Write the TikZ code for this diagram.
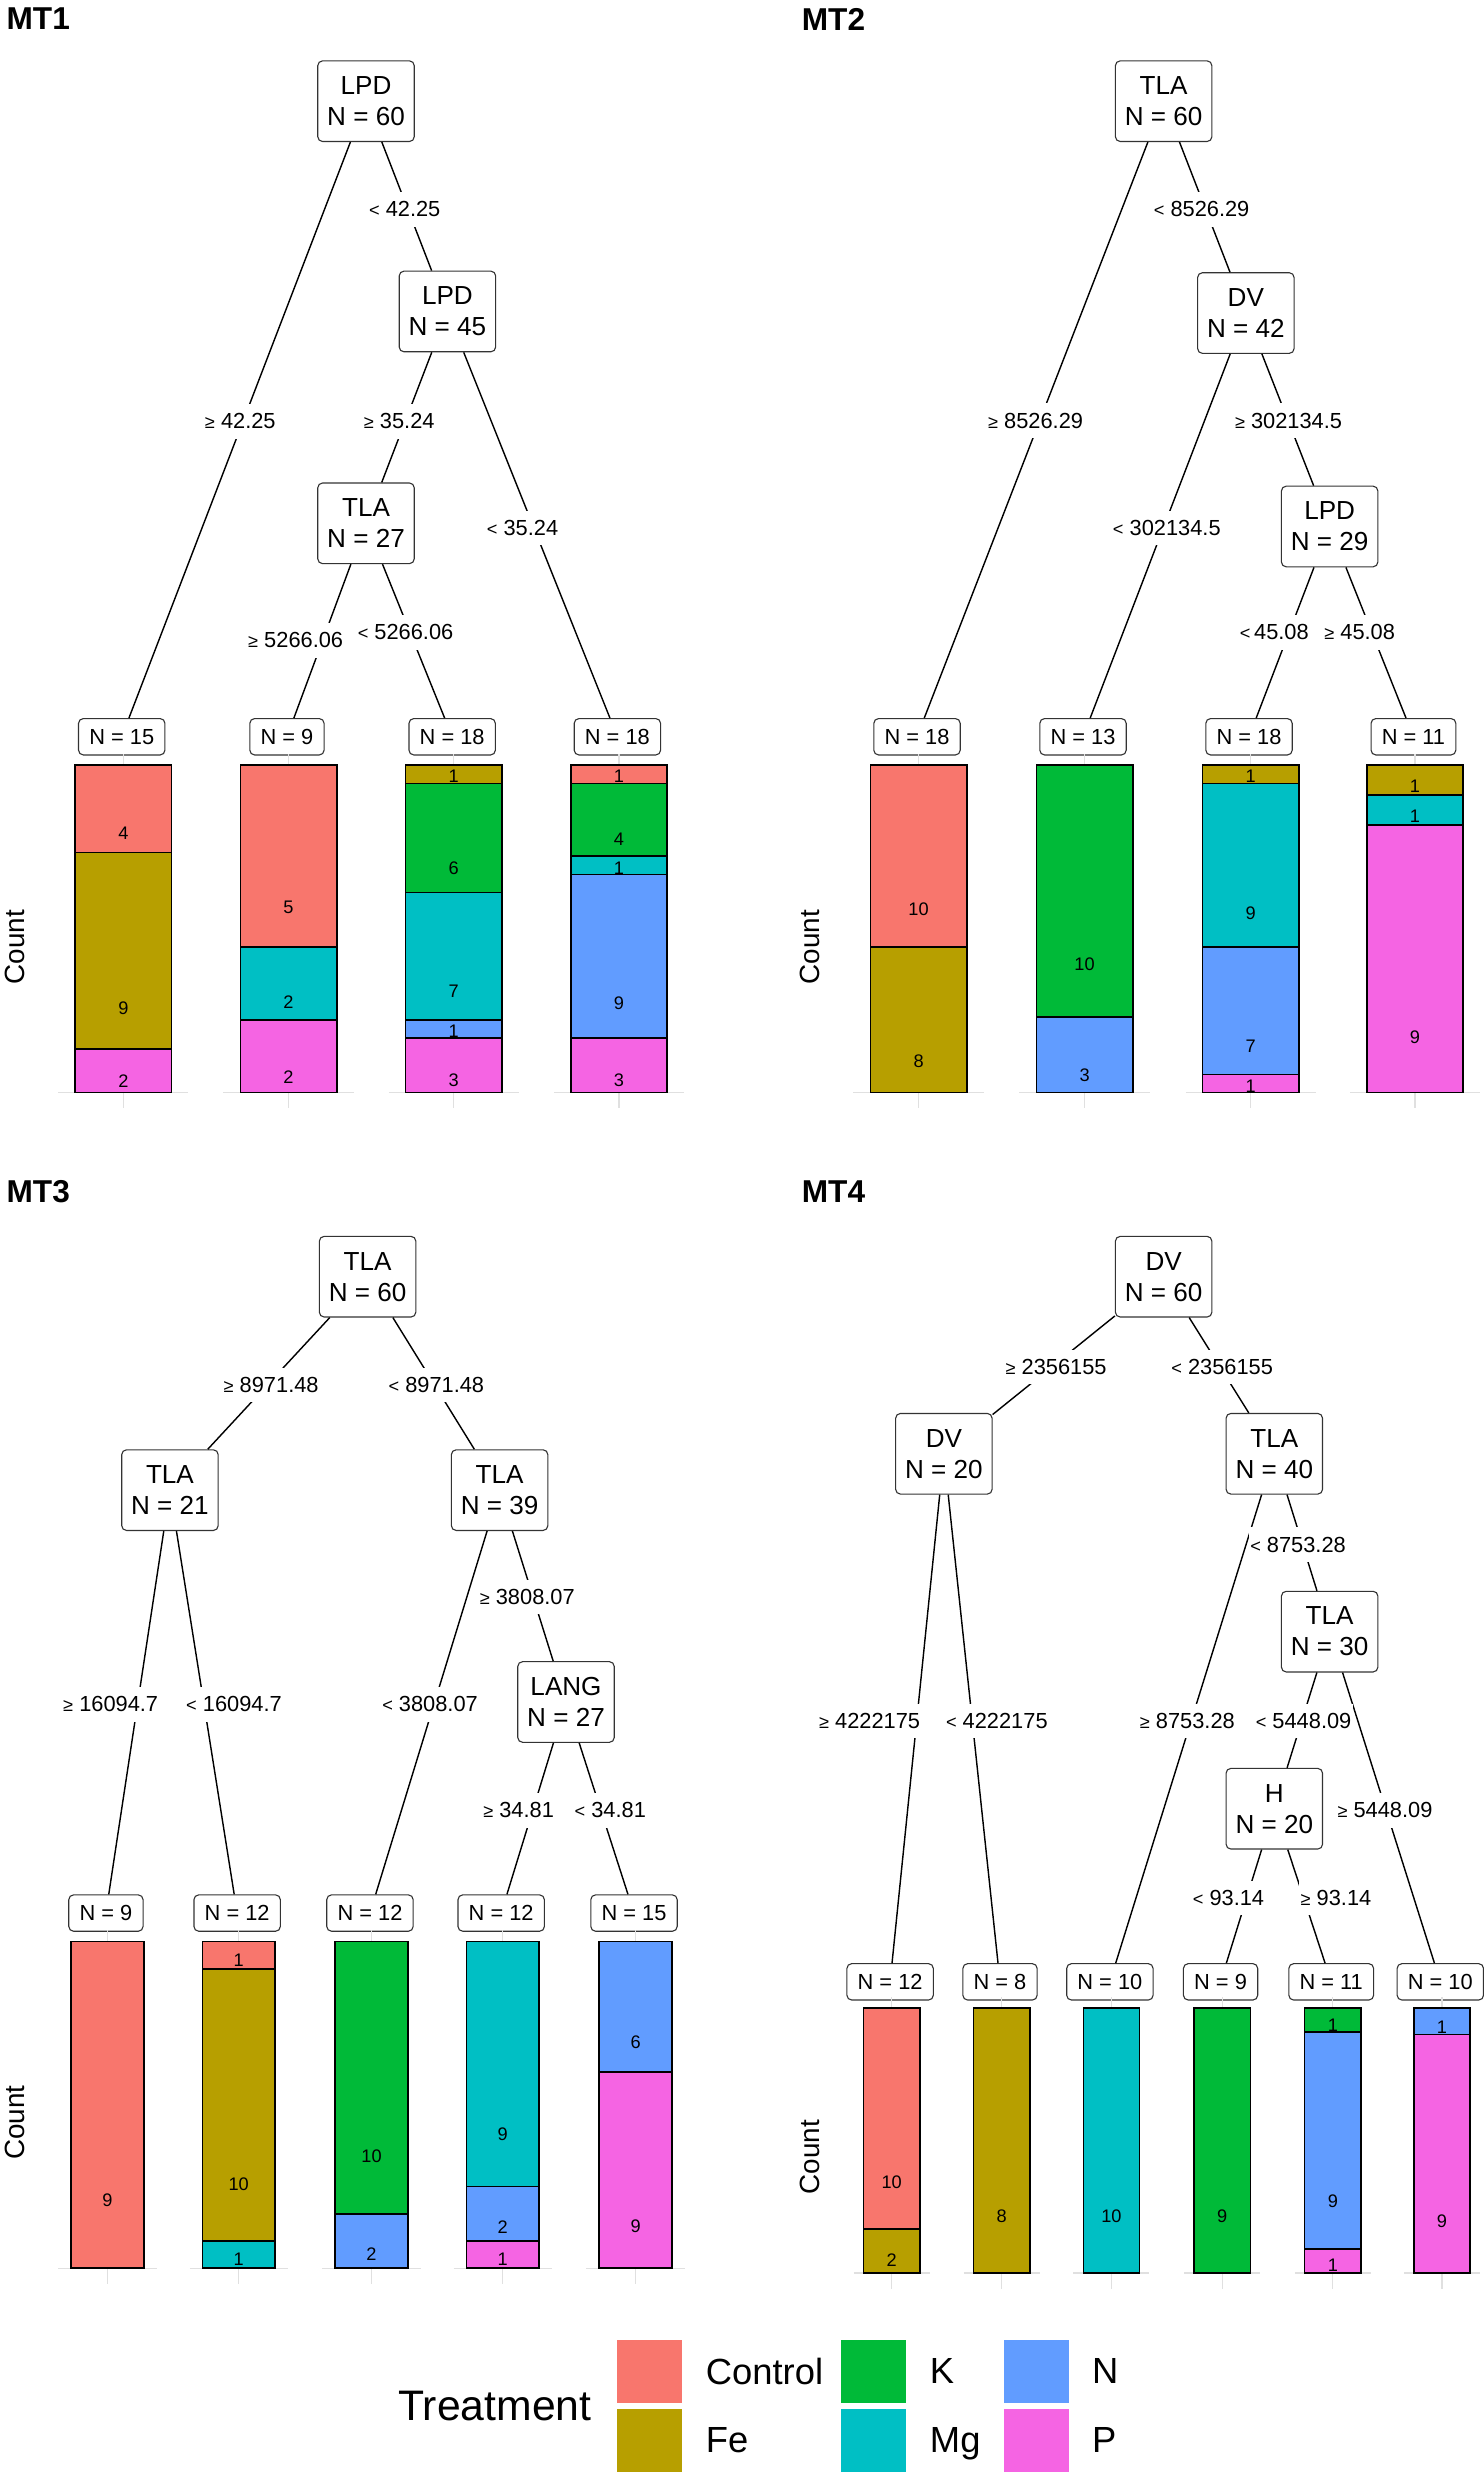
\documentclass[tikz,border=0pt]{standalone}
\usepackage{fontspec}
\setmainfont{Liberation Sans}
\usetikzlibrary{positioning}
\definecolor{trControl}{HTML}{F8766D}
\definecolor{trFe}{HTML}{B79F00}
\definecolor{trK}{HTML}{00BA38}
\definecolor{trMg}{HTML}{00BFC4}
\definecolor{trN}{HTML}{619CFF}
\definecolor{trP}{HTML}{F564E3}
\pgfdeclarelayer{front}
\pgfsetlayers{main,front}
\newcommand{\gsym}{{\fontsize{11.5}{11}\selectfont ≥}}
\newcommand{\lsym}{{\fontsize{11.5}{11}\selectfont <}}
\tikzset{
  splitnode/.style={draw=black!80, line width=0.7pt, rounded corners=3pt, fill=white, align=center, minimum width=61pt, minimum height=51pt, inner sep=0pt, font=\fontsize{16.5}{19.6}\selectfont},
  leafnode/.style={draw=black!80, line width=0.7pt, rounded corners=3pt, fill=white, minimum height=23pt, inner xsep=6.8pt, inner ysep=0pt, font=\fontsize{13.8}{14}\selectfont},
  edgelbl/.style={fill=white, inner xsep=1pt, inner ysep=6pt, font=\fontsize{13.8}{14}\selectfont},
  countlbl/.style={inner sep=0pt, font=\fontsize{11.5}{12}\selectfont},
  segbox/.style={draw=black, line width=1pt},
  treeedge/.style={draw=black, line width=0.9pt},
  axisln/.style={draw=black!12, line width=0.8pt},
  paneltitle/.style={anchor=west, inner sep=0pt, font=\fontsize{20}{20}\selectfont\bfseries},
  ylab/.style={rotate=90, inner sep=0pt, font=\fontsize{17.6}{18}\selectfont},
  keybox/.style={minimum width=41.5pt, minimum height=40.5pt, inner sep=0pt, draw=white, line width=0.5pt},
  keylbl/.style={inner sep=0pt, text depth=0pt, font=\fontsize{23}{23}\selectfont},
}
% one stacked piece of a bar: name, x, from, to, N, colour, count, label y
\newcommand{\barseg}[8]{%
  \filldraw[segbox, fill=#6] (#2-\barhw,\bartopy+\barlen*#3/#5) rectangle (#2+\barhw,\bartopy+\barlen*#4/#5);
  \begin{pgfonlayer}{front}\node[countlbl] (#1) at (#2,#8) {#7};\end{pgfonlayer}}
\newcommand{\baraxis}[1]{%
  \draw[axisln] (#1-1.35*\barhw,\bartopy+\barlen) -- (#1+1.35*\barhw,\bartopy+\barlen);
  \draw[axisln] (#1,\bartopy+\barlen) -- (#1,\bartopy+\barlen+10);
  \draw[axisln] (#1,\bartopy-7) -- (#1,\bartopy);}
\begin{document}
\begin{tikzpicture}[x=1pt,y=-1pt]
\useasboundingbox (0,0) rectangle (938,1568.6);

% MT1 tree
\node[paneltitle] (mt1title) at (4,12) {MT1};
\node[splitnode] (mt1a) at (231.5,64) {LPD\\N = 60};
\node[splitnode] (mt1b) at (283,197) {LPD\\N = 45};
\node[splitnode] (mt1c) at (231.5,331) {TLA\\N = 27};
\node[leafnode] (mt1l1) at (77,466) {N = 15};
\node[leafnode] (mt1l2) at (181.5,466) {N = 9};
\node[leafnode] (mt1l3) at (286,466) {N = 18};
\node[leafnode] (mt1l4) at (390.5,466) {N = 18};

\draw[treeedge] (mt1a) -- (mt1l1);
\draw[treeedge] (mt1a) -- (mt1b);
\draw[treeedge] (mt1b) -- (mt1c);
\draw[treeedge] (mt1b) -- (mt1l4);
\draw[treeedge] (mt1c) -- (mt1l2);
\draw[treeedge] (mt1c) -- (mt1l3);

\node[edgelbl] (mt1e1) at (256,132.5) {\lsym\ 42.25};
\node[edgelbl] (mt1e2) at (152,266.5) {\gsym\ 42.25};
\node[edgelbl] (mt1e3) at (252.5,266.5) {\gsym\ 35.24};
\node[edgelbl] (mt1e4) at (330.5,334) {\lsym\ 35.24};
\node[edgelbl] (mt1e5) at (187,405) {\gsym\ 5266.06};
\node[edgelbl] (mt1e6) at (256.5,400) {\lsym\ 5266.06};

% MT1 bars
\def\bartopy{484}\def\barlen{207}\def\barhw{30.5}
\baraxis{78}\baraxis{182.5}\baraxis{287}\baraxis{391.5}
\barseg{mt1b1s1}{78}{0}{4}{15}{trControl}{4}{527}
\barseg{mt1b1s2}{78}{4}{13}{15}{trFe}{9}{638}
\barseg{mt1b1s3}{78}{13}{15}{15}{trP}{2}{684}
\barseg{mt1b2s1}{182.5}{0}{5}{9}{trControl}{5}{574}
\barseg{mt1b2s2}{182.5}{5}{7}{9}{trMg}{2}{634}
\barseg{mt1b2s3}{182.5}{7}{9}{9}{trP}{2}{681}
\barseg{mt1b3s1}{287}{0}{1}{18}{trFe}{1}{491}
\barseg{mt1b3s2}{287}{1}{7}{18}{trK}{6}{549}
\barseg{mt1b3s3}{287}{7}{14}{18}{trMg}{7}{627}
\barseg{mt1b3s4}{287}{14}{15}{18}{trN}{1}{652}
\barseg{mt1b3s5}{287}{15}{18}{18}{trP}{3}{683}
\barseg{mt1b4s1}{391.5}{0}{1}{18}{trControl}{1}{491}
\barseg{mt1b4s2}{391.5}{1}{5}{18}{trK}{4}{531}
\barseg{mt1b4s3}{391.5}{5}{6}{18}{trMg}{1}{549}
\barseg{mt1b4s4}{391.5}{6}{15}{18}{trN}{9}{634.5}
\barseg{mt1b4s5}{391.5}{15}{18}{18}{trP}{3}{683}
\node[ylab] (mt1count) at (9.5,599) {Count};

% MT2 tree
\node[paneltitle] (mt2title) at (507,12) {MT2};
\node[splitnode] (mt2a) at (736,64) {TLA\\N = 60};
\node[splitnode] (mt2b) at (788,198) {DV\\N = 42};
\node[splitnode] (mt2c) at (841,333) {LPD\\N = 29};
\node[leafnode] (mt2l1) at (580,466) {N = 18};
\node[leafnode] (mt2l2) at (685,466) {N = 13};
\node[leafnode] (mt2l3) at (790,466) {N = 18};
\node[leafnode] (mt2l4) at (894,466) {N = 11};

\draw[treeedge] (mt2a) -- (mt2l1);
\draw[treeedge] (mt2a) -- (mt2b);
\draw[treeedge] (mt2b) -- (mt2l2);
\draw[treeedge] (mt2b) -- (mt2c);
\draw[treeedge] (mt2c) -- (mt2l3);
\draw[treeedge] (mt2c) -- (mt2l4);

\node[edgelbl] (mt2e1) at (760,132.5) {\lsym\ 8526.29};
\node[edgelbl] (mt2e2) at (655,266) {\gsym\ 8526.29};
\node[edgelbl] (mt2e3) at (815,266) {\gsym\ 302134.5};
\node[edgelbl] (mt2e4) at (738,334) {\lsym\ 302134.5};
\node[edgelbl] (mt2e5) at (806,400) {\lsym\,45.08};
\node[edgelbl] (mt2e6) at (860,400) {\gsym\ 45.08};

% MT2 bars
\baraxis{581}\baraxis{686}\baraxis{791}\baraxis{895}
\barseg{mt2b1s1}{581}{0}{10}{18}{trControl}{10}{575}
\barseg{mt2b1s2}{581}{10}{18}{18}{trFe}{8}{671.5}
\barseg{mt2b2s1}{686}{0}{10}{13}{trK}{10}{610}
\barseg{mt2b2s2}{686}{10}{13}{13}{trN}{3}{680}
\barseg{mt2b3s1}{791}{0}{1}{18}{trFe}{1}{491}
\barseg{mt2b3s2}{791}{1}{10}{18}{trMg}{9}{577.5}
\barseg{mt2b3s3}{791}{10}{17}{18}{trN}{7}{662}
\barseg{mt2b3s4}{791}{17}{18}{18}{trP}{1}{687}
\barseg{mt2b4s1}{895}{0}{1}{11}{trFe}{1}{497.5}
\barseg{mt2b4s2}{895}{1}{2}{11}{trMg}{1}{516.5}
\barseg{mt2b4s3}{895}{2}{11}{11}{trP}{9}{656}
\node[ylab] (mt2count) at (512.5,599) {Count};

% MT3 tree
\node[paneltitle] (mt3title) at (4,754) {MT3};
\node[splitnode] (mt3a) at (232.5,807.5) {TLA\\N = 60};
\node[splitnode] (mt3b) at (107.5,942.5) {TLA\\N = 21};
\node[splitnode] (mt3c) at (316,942.5) {TLA\\N = 39};
\node[splitnode] (mt3d) at (358,1076.5) {LANG\\N = 27};
\node[leafnode] (mt3l1) at (67,1210) {N = 9};
\node[leafnode] (mt3l2) at (150,1210) {N = 12};
\node[leafnode] (mt3l3) at (234,1210) {N = 12};
\node[leafnode] (mt3l4) at (317,1210) {N = 12};
\node[leafnode] (mt3l5) at (401,1210) {N = 15};

\draw[treeedge] (mt3a) -- (mt3b);
\draw[treeedge] (mt3a) -- (mt3c);
\draw[treeedge] (mt3b) -- (mt3l1);
\draw[treeedge] (mt3b) -- (mt3l2);
\draw[treeedge] (mt3c) -- (mt3l3);
\draw[treeedge] (mt3c) -- (mt3d);
\draw[treeedge] (mt3d) -- (mt3l4);
\draw[treeedge] (mt3d) -- (mt3l5);

\node[edgelbl] (mt3e1) at (171.5,876) {\gsym\ 8971.48};
\node[edgelbl] (mt3e2) at (276,876) {\lsym\ 8971.48};
\node[edgelbl] (mt3e3) at (70,1078) {\gsym\ 16094.7};
\node[edgelbl] (mt3e4) at (148,1078) {\lsym\ 16094.7};
\node[edgelbl] (mt3e5) at (333.5,1010) {\gsym\ 3808.07};
\node[edgelbl] (mt3e6) at (272,1078) {\lsym\ 3808.07};
\node[edgelbl] (mt3e7) at (328,1145) {\gsym\ 34.81};
\node[edgelbl] (mt3e8) at (386,1145) {\lsym\ 34.81};

% MT3 bars
\def\bartopy{1228}\def\barlen{206.6}\def\barhw{23}
\baraxis{68}\baraxis{151}\baraxis{235}\baraxis{318}\baraxis{402}
\barseg{mt3b1s1}{68}{0}{9}{9}{trControl}{9}{1391.5}
\barseg{mt3b2s1}{151}{0}{1}{12}{trControl}{1}{1240}
\barseg{mt3b2s2}{151}{1}{11}{12}{trFe}{10}{1381.5}
\barseg{mt3b2s3}{151}{11}{12}{12}{trMg}{1}{1429}
\barseg{mt3b3s1}{235}{0}{10}{12}{trK}{10}{1364}
\barseg{mt3b3s2}{235}{10}{12}{12}{trN}{2}{1426}
\barseg{mt3b4s1}{318}{0}{9}{12}{trMg}{9}{1350}
\barseg{mt3b4s2}{318}{9}{11}{12}{trN}{2}{1408.6}
\barseg{mt3b4s3}{318}{11}{12}{12}{trP}{1}{1429}
\barseg{mt3b5s1}{402}{0}{6}{15}{trN}{6}{1292}
\barseg{mt3b5s2}{402}{6}{15}{15}{trP}{9}{1408}
\node[ylab] (mt3count) at (9.5,1342.5) {Count};

% MT4 tree
\node[paneltitle] (mt4title) at (507,754) {MT4};
\node[splitnode] (mt4a) at (736,807.5) {DV\\N = 60};
\node[splitnode] (mt4b) at (597,919.5) {DV\\N = 20};
\node[splitnode] (mt4c) at (806,919.5) {TLA\\N = 40};
\node[splitnode] (mt4d) at (841,1032) {TLA\\N = 30};
\node[splitnode] (mt4e) at (806,1144) {H\\N = 20};
\node[leafnode] (mt4l1) at (563,1253.5) {N = 12};
\node[leafnode] (mt4l2) at (632.5,1253.5) {N = 8};
\node[leafnode] (mt4l3) at (702,1253.5) {N = 10};
\node[leafnode] (mt4l4) at (772,1253.5) {N = 9};
\node[leafnode] (mt4l5) at (842,1253.5) {N = 11};
\node[leafnode] (mt4l6) at (911,1253.5) {N = 10};

\draw[treeedge] (mt4a) -- (mt4b);
\draw[treeedge] (mt4a) -- (mt4c);
\draw[treeedge] (mt4b) -- (mt4l1);
\draw[treeedge] (mt4b) -- (mt4l2);
\draw[treeedge] (mt4c) -- (mt4l3);
\draw[treeedge] (mt4c) -- (mt4d);
\draw[treeedge] (mt4d) -- (mt4e);
\draw[treeedge] (mt4d) -- (mt4l6);
\draw[treeedge] (mt4e) -- (mt4l4);
\draw[treeedge] (mt4e) -- (mt4l5);

\node[edgelbl] (mt4e1) at (668,864.6) {\gsym\ 2356155};
\node[edgelbl] (mt4e2) at (773,864.6) {\lsym\ 2356155};
\node[edgelbl] (mt4e3) at (821,977) {\lsym\ 8753.28};
\node[edgelbl] (mt4e4) at (550,1088.5) {\gsym\ 4222175};
\node[edgelbl] (mt4e5) at (630.5,1088.5) {\lsym\ 4222175};
\node[edgelbl] (mt4e6) at (751,1088.5) {\gsym\ 8753.28};
\node[edgelbl] (mt4e7) at (824.5,1088.5) {\lsym\ 5448.09};
\node[edgelbl] (mt4e8) at (876,1145) {\gsym\ 5448.09};
\node[edgelbl] (mt4e9) at (777,1200.5) {\lsym\ 93.14};
\node[edgelbl] (mt4e10) at (845,1200.5) {\gsym\ 93.14};

% MT4 bars
\def\bartopy{1270}\def\barlen{167.7}\def\barhw{17.8}
\baraxis{564}\baraxis{633.5}\baraxis{703}\baraxis{773}\baraxis{843}\baraxis{912}
\barseg{mt4b1s1}{564}{0}{10}{12}{trControl}{10}{1380}
\barseg{mt4b1s2}{564}{10}{12}{12}{trFe}{2}{1429.5}
\barseg{mt4b2s1}{633.5}{0}{8}{8}{trFe}{8}{1402}
\barseg{mt4b3s1}{703}{0}{10}{10}{trMg}{10}{1402}
\barseg{mt4b4s1}{773}{0}{9}{9}{trK}{9}{1402}
\barseg{mt4b5s1}{843}{0}{1}{11}{trK}{1}{1281}
\barseg{mt4b5s2}{843}{1}{10}{11}{trN}{9}{1392.5}
\barseg{mt4b5s3}{843}{10}{11}{11}{trP}{1}{1432.6}
\barseg{mt4b6s1}{912}{0}{1}{10}{trN}{1}{1282}
\barseg{mt4b6s2}{912}{1}{10}{10}{trP}{9}{1405}
\node[ylab] (mt4count) at (512.5,1364.5) {Count};

% Legend
\node[font=\fontsize{27}{27}\selectfont, inner sep=0pt] (legtitle) at (313,1522) {Treatment};
\node[keybox, fill=trControl] (keyctrl) at (410.8,1499.8) {};
\node[keybox, fill=trFe] (keyfe) at (410.8,1543.5) {};
\node[keybox, fill=trK] (keyk) at (552.5,1499.8) {};
\node[keybox, fill=trMg] (keymg) at (552.5,1543.5) {};
\node[keybox, fill=trN] (keyn) at (655.5,1499.8) {};
\node[keybox, fill=trP] (keyp) at (655.5,1543.5) {};
\node[keylbl, right=14.5pt of keyctrl] (lblctrl) {Control};
\node[keylbl, right=14.5pt of keyfe] (lblfe) {Fe};
\node[keylbl, right=14.5pt of keyk] (lblk) {K};
\node[keylbl, right=14.5pt of keymg] (lblmg) {Mg};
\node[keylbl, right=14pt of keyn] (lbln) {N};
\node[keylbl, right=14pt of keyp] (lblp) {P};
\end{tikzpicture}
\end{document}
